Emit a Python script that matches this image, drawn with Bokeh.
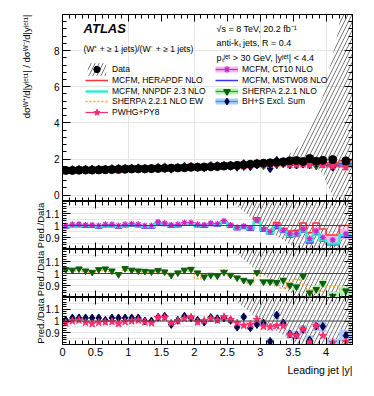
import numpy as np
from bokeh.plotting import figure
from bokeh.layouts import column, row
from bokeh.models import (Range1d, LinearAxis, FixedTicker, NumeralTickFormatter, Label,
                          Span, Legend, LegendItem, Title, Spacer)
from bokeh.embed import file_html
from bokeh.resources import INLINE

# ---------------- data ----------------
bin_lo = [0.0, 0.1, 0.2, 0.3, 0.4, 0.5, 0.6, 0.7, 0.8, 0.9, 1.0, 1.1, 1.2, 1.3, 1.4,
          1.5, 1.6, 1.7, 1.8, 1.9, 2.0, 2.1, 2.2, 2.3, 2.4, 2.5, 2.6, 2.7, 2.8, 2.9,
          3.0, 3.1, 3.2, 3.3, 3.4, 3.5, 3.6, 3.7, 3.8, 3.9, 4.0, 4.2]
bin_hi = [0.1, 0.2, 0.3, 0.4, 0.5, 0.6, 0.7, 0.8, 0.9, 1.0, 1.1, 1.2, 1.3, 1.4, 1.5,
          1.6, 1.7, 1.8, 1.9, 2.0, 2.1, 2.2, 2.3, 2.4, 2.5, 2.6, 2.7, 2.8, 2.9, 3.0,
          3.1, 3.2, 3.3, 3.4, 3.5, 3.6, 3.7, 3.8, 3.9, 4.0, 4.2, 4.4]

data_ratio = [1.37, 1.37, 1.38, 1.39, 1.39, 1.40, 1.41, 1.42, 1.43, 1.44,
              1.45, 1.46, 1.46, 1.47, 1.48, 1.49, 1.50, 1.51, 1.52, 1.54,
              1.55, 1.56, 1.58, 1.59, 1.61, 1.63, 1.65, 1.68, 1.71, 1.74,
              1.77, 1.79, 1.82, 1.85, 1.90, 1.92, 1.86, 2.03, 1.88, 1.93,
              1.97, 1.90]

# data uncertainty band (main panel)
hatch_main_x = [3.35, 3.45, 3.55, 3.65, 3.75, 3.85, 3.95, 4.05, 4.15, 4.25, 4.4]
hatch_main_lo = [1.80, 1.80, 1.80, 1.75, 1.70, 1.55, 1.20, 0.30, -0.4, -0.4, -0.4]
hatch_main_hi = [1.95, 2.30, 2.60, 3.00, 3.60, 4.50, 5.50, 7.00, 8.50, 10.5, 10.5]
# data uncertainty band (ratio panels)
hatch_ratio_x = [2.55, 3.0, 3.35, 3.6, 4.4]
hatch_ratio_lo = [1.21, 1.0, 0.88, 0.79, 0.79]
hatch_ratio_hi = [1.21, 1.21, 1.21, 1.21, 1.21]

# Pred./Data ratios
r_herapdf = [0.995, 1.005, 1.005, 1.0, 1.0, 0.995, 1.005, 1.005, 0.995, 1.005,
             1.01, 1.005, 0.995, 0.995, 1.025, 1.015, 1.0, 1.005, 1.02, 1.02,
             1.005, 1.0, 1.015, 1.01, 1.035, 1.005, 0.985, 0.995, 0.98, 1.065,
             0.98, 0.95, 1.025, 0.975, 0.955, 0.96, 1.02, 0.94, 1.02, 0.97,
             0.92, 1.0]
r_nnpdf = [0.99, 1.0, 1.0, 0.995, 0.995, 0.99, 1.0, 1.0, 0.99, 1.0,
           1.005, 1.0, 0.99, 0.99, 1.02, 1.01, 0.995, 1.0, 1.015, 1.015,
           1.0, 0.995, 1.01, 1.005, 1.028, 0.995, 0.975, 0.985, 0.97, 1.035,
           0.965, 0.935, 0.99, 0.955, 0.915, 0.925, 0.955, 0.87, 0.935, 0.88,
           0.85, 0.92]
r_mstw = [0.98, 0.99, 0.99, 0.985, 0.985, 0.98, 0.99, 0.99, 0.98, 0.99,
          0.995, 0.99, 0.98, 0.98, 1.01, 1.0, 0.985, 0.99, 1.005, 1.005,
          0.99, 0.985, 1.0, 0.995, 1.018, 0.985, 0.965, 0.975, 0.96, 1.025,
          0.955, 0.93, 0.975, 0.945, 0.905, 0.915, 0.945, 0.855, 0.925, 0.87,
          0.84, 0.905]
r_ct10 = [1.0, 1.01, 1.012, 1.005, 1.005, 1.0, 1.01, 1.01, 1.0, 1.01,
          1.015, 1.01, 1.0, 1.0, 1.03, 1.02, 1.005, 1.01, 1.025, 1.025,
          1.01, 1.005, 1.02, 1.015, 1.04, 1.005, 0.985, 0.995, 0.98, 1.045,
          0.97, 0.95, 1.0, 0.96, 0.93, 0.935, 0.97, 0.89, 0.955, 0.9,
          0.88, 0.93]
e_ct10 = [0.008, 0.008, 0.008, 0.008, 0.008, 0.008, 0.008, 0.008, 0.008, 0.008,
          0.008, 0.008, 0.008, 0.008, 0.009, 0.009, 0.009, 0.009, 0.01, 0.01,
          0.01, 0.01, 0.011, 0.011, 0.012, 0.012, 0.013, 0.013, 0.014, 0.015,
          0.018, 0.02, 0.022, 0.024, 0.026, 0.028, 0.03, 0.032, 0.034, 0.036,
          0.04, 0.045]
r_sherpa = [1.033, 1.028, 1.039, 1.022, 1.011, 1.033, 1.039, 1.022, 0.992, 1.042,
            1.028, 1.022, 1.019, 1.014, 1.025, 1.014, 0.986, 1.006, 1.028, 1.036,
            1.006, 0.972, 0.986, 0.981, 1.011, 0.986, 0.964, 0.944, 0.931, 1.008,
            0.931, 0.931, 0.925, 0.944, 0.90, 0.889, 0.978, 0.839, 0.867, 0.917,
            0.811, 0.856]
e_sherpa = [0.008, 0.008, 0.008, 0.008, 0.008, 0.008, 0.008, 0.008, 0.008, 0.01,
            0.01, 0.01, 0.01, 0.01, 0.01, 0.01, 0.01, 0.01, 0.012, 0.012,
            0.012, 0.014, 0.014, 0.014, 0.015, 0.015, 0.016, 0.016, 0.018, 0.018,
            0.02, 0.02, 0.022, 0.024, 0.026, 0.028, 0.03, 0.03, 0.032, 0.034,
            0.035, 0.035]
r_sherpa_ew = [1.02, 1.02, 1.025, 1.015, 1.005, 1.02, 1.025, 1.015, 0.995, 1.025,
               1.02, 1.015, 1.01, 1.005, 1.015, 1.005, 0.99, 1.0, 1.02, 1.02,
               0.96, 0.99, 0.985, 0.99, 1.03, 0.985, 0.965, 0.95, 0.92, 1.01,
               0.94, 0.94, 0.90, 0.88, 0.925, 0.95, 0.91, 0.865, 0.87, 0.85,
               0.89, 0.865]
r_bhs = [1.006, 1.026, 1.026, 1.026, 1.026, 1.026, 1.006, 1.026, 1.026, 1.026,
         1.026, 1.026, 1.0, 1.0, 1.032, 1.041, 0.971, 1.006, 1.041, 1.026,
         1.006, 0.991, 1.029, 1.02, 1.026, 1.006, 0.948, 1.035, 0.942, 0.971,
         0.983, 0.826, 1.049, 0.983, 0.89, 0.881, 0.928, 0.838, 0.957, 0.954,
         0.797, 0.875]
e_bhs = [0.008, 0.008, 0.008, 0.008, 0.008, 0.008, 0.008, 0.008, 0.008, 0.008,
         0.009, 0.009, 0.009, 0.009, 0.01, 0.01, 0.01, 0.01, 0.011, 0.011,
         0.012, 0.012, 0.013, 0.013, 0.014, 0.015, 0.016, 0.017, 0.018, 0.02,
         0.022, 0.025, 0.028, 0.03, 0.032, 0.035, 0.038, 0.04, 0.042, 0.045,
         0.05, 0.05]
r_pwhg = [0.983, 1.0, 1.006, 0.988, 0.977, 0.988, 0.991, 0.994, 0.977, 0.994,
          1.0, 1.006, 0.991, 0.983, 1.029, 1.029, 0.983, 1.0, 1.02, 1.032,
          0.991, 1.003, 1.02, 1.006, 1.035, 1.012, 0.983, 0.962, 0.971, 1.012,
          0.954, 0.948, 0.959, 0.957, 0.884, 0.875, 0.93, 0.82, 0.957, 0.875,
          0.817, 0.823]

# ---------------- helpers ----------------
FONT = "Liberation Sans"
lo = np.array(bin_lo)
hi = np.array(bin_hi)
xc = (lo + hi) / 2
edges = list(bin_lo) + [bin_hi[-1]]
dat = np.array(data_ratio)

XMAJ = [0, 0.5, 1, 1.5, 2, 2.5, 3, 3.5, 4]
XMIN = [round(0.1 * i, 1) for i in range(45)]
RMAJ = [0.9, 1.0, 1.1]
RMIN = [round(0.8 + 0.02 * i, 2) for i in range(21)]
MMAJ = [0, 2, 4, 6, 8]
MMIN = [round(0.4 * i, 1) for i in range(26)]

C_RED = "#ff3333"
C_CYAN = "#33eecc"
C_BLUE = "#3333ff"
C_ORANGE = "#ffa022"
C_PINK = "#ff2d6e"
C_MAG = "#cc22cc"
C_MAGBAND = "#f4b6f4"
C_GREEN = "#2f9e2f"
C_DKGREEN = "#0b5e0b"
C_GRBAND = "#b4f0b4"
C_NAVY = "#00004d"
C_LBLUE = "#4d88ff"
C_BLBAND = "#a8ccfa"
HATCH = dict(hatch_pattern="/", hatch_color="#555555", hatch_scale=8, hatch_weight=0.8,
             fill_alpha=0)

RATIO_SHIFT = 14  # ratio panels start a little to the right; their frames still line up


def base_fig(h, yr, top=0, bottom=0, left=62, width=366):
    p = figure(width=width, height=h, x_range=Range1d(0, 4.4), title=None,
               y_range=Range1d(*yr), output_backend="svg", toolbar_location=None,
               min_border_left=left, min_border_right=14, min_border_top=top,
               min_border_bottom=bottom, x_axis_location=None, y_axis_location=None,
               background_fill_color="white", border_fill_color="white")
    p.outline_line_color = "black"
    p.outline_line_width = 1
    return p


def ratio_fig(h, bottom=0):
    return base_fig(h, (0.8, 1.2), bottom=bottom, left=62 - RATIO_SHIFT,
                    width=366 - RATIO_SHIFT)


def tick_axis(p, side, positions, length):
    # axis drawing only tick marks (no labels)
    ax = LinearAxis(ticker=FixedTicker(ticks=[], minor_ticks=positions))
    ax.major_tick_in = 0
    ax.major_tick_out = 0
    ax.minor_tick_in = length
    ax.minor_tick_out = 0
    ax.major_label_standoff = 0
    ax.axis_line_color = "black"
    ax.minor_tick_line_color = "black"
    p.add_layout(ax, side)


def label_axis(p, side, ticks, minor, tin, tmin, fs):
    ax = LinearAxis(ticker=FixedTicker(ticks=ticks, minor_ticks=minor),
                    formatter=NumeralTickFormatter(format="0.[0]"))
    ax.major_tick_in = tin
    ax.major_tick_out = 0
    ax.minor_tick_in = tmin
    ax.minor_tick_out = 0
    ax.axis_line_color = "black"
    ax.major_tick_line_color = "black"
    ax.minor_tick_line_color = "black"
    ax.major_label_text_font = FONT
    ax.major_label_text_font_size = fs
    ax.major_label_text_color = "black"
    ax.major_label_standoff = 3
    p.add_layout(ax, side)
    return ax


def frame_axes(p, yt, ym, xlabels=False):
    if xlabels:
        label_axis(p, "below", XMAJ, XMIN, 7, 4, "11px")
    else:
        tick_axis(p, "below", XMIN, 4)
        tick_axis(p, "below", XMAJ, 7)
    tick_axis(p, "above", XMIN, 4)
    tick_axis(p, "above", XMAJ, 7)
    tick_axis(p, "right", ym, 4)
    tick_axis(p, "right", yt, 8)
    return label_axis(p, "left", yt, ym, 8, 4, "10px")


def ratio_axes(p, xlabels=False):
    frame_axes(p, RMAJ, RMIN, xlabels)
    p.add_layout(Title(text="Pred./Data", align="center", text_font=FONT,
                       text_font_size="9.5px", text_font_style="normal",
                       text_color="black", standoff=-6), "left")


# ---------------- main panel ----------------
pm = base_fig(201, (-0.35, 10.0), top=14, bottom=0)
frame_axes(pm, MMAJ, MMIN)
pm.add_layout(Title(text="d\u03c3\u1d42\u207a/d|y\u02b2\u1d49\u1d57\u00b9| / d\u03c3\u1d42\u207b/d|y\u02b2\u1d49\u1d57\u00b9|",
                    align="right", text_font=FONT, text_font_size="9.5px",
                    text_font_style="normal", text_color="black", standoff=37), "left")

h_main = pm.varea(x=hatch_main_x, y1=hatch_main_lo, y2=hatch_main_hi, **HATCH)

l_red = pm.step(x=edges, y=list(dat * np.array(r_herapdf)) + [dat[-1] * r_herapdf[-1]],
                mode="after", line_color=C_RED, line_width=1.5)
l_cyan = pm.step(x=edges, y=list(dat * np.array(r_nnpdf)) + [dat[-1] * r_nnpdf[-1]],
                 mode="after", line_color=C_CYAN, line_width=2.5)
l_blue = pm.step(x=edges, y=list(dat * np.array(r_mstw)) + [dat[-1] * r_mstw[-1]],
                 mode="after", line_color=C_BLUE, line_width=1.5)
l_orange = pm.step(x=edges, y=list(dat * np.array(r_sherpa_ew)) + [dat[-1] * r_sherpa_ew[-1]],
                   mode="after", line_color=C_ORANGE, line_width=1.5, line_dash="2 2")


def main_series(r, line_c, band_c, marker, mfill, msize):
    y = dat * np.array(r)
    rs = []
    if band_c is not None:
        proxy = pm.segment(x0=lo, x1=hi, y0=y, y1=y, line_color=band_c, line_width=6)
        proxy.visible = False
        rs.append(proxy)
    rs.append(pm.segment(x0=lo, x1=hi, y0=y, y1=y, line_color=line_c, line_width=1.2))
    rs.append(pm.scatter(x=xc, y=y, marker=marker, size=msize, fill_color=mfill,
                         line_color=mfill, line_width=1.2))
    return rs


ct10 = main_series(r_ct10, C_MAG, C_MAGBAND, "asterisk", C_MAG, 7)
sherpa = main_series(r_sherpa, C_GREEN, C_GRBAND, "inverted_triangle", C_DKGREEN, 7)
bhs = main_series(r_bhs, C_LBLUE, C_BLBAND, "diamond", C_NAVY, 8)
pwhg = main_series(r_pwhg, C_PINK, None, "star", C_PINK, 8)

d_sc = pm.scatter(x=xc, y=dat, marker="circle", size=8, fill_color="black", line_color="black")

leg_kw = dict(background_fill_alpha=0, border_line_alpha=0, padding=0, margin=0,
              spacing=0, glyph_width=23, glyph_height=16, label_height=9,
              label_standoff=4, label_text_font=FONT, label_text_font_size="8.5px",
              label_text_color="black")
legend_rows = [
    ("Data", [h_main, d_sc], 23, 124),
    ("MCFM, HERAPDF NLO", [l_red], 23, 113),
    ("MCFM, NNPDF 2.3 NLO", [l_cyan], 23, 102),
    ("SHERPA 2.2.1 NLO EW", [l_orange], 23, 92),
    ("PWHG+PY8", pwhg, 23, 81),
    ("MCFM, CT10 NLO", ct10, 153, 124),
    ("MCFM, MSTW08 NLO", [l_blue], 153, 113),
    ("SHERPA 2.2.1 NLO", sherpa, 153, 102),
    ("BH+S Excl. Sum", bhs, 153, 92),
]
for lab, rens, lx, ly in legend_rows:
    pm.add_layout(Legend(items=[LegendItem(label=lab, renderers=rens)],
                         location=(lx, ly), **leg_kw))

pm.add_layout(Label(x=0.319, y=9.225, text="ATLAS", text_font=FONT, text_font_size="13px",
                    text_font_style="bold italic", text_baseline="middle", text_color="black"))
pm.add_layout(Label(x=0.319, y=8.063, text="(W\u207a + \u2265 1 jets)/(W\u207b + \u2265 1 jets)",
                    text_font=FONT, text_font_size="8.5px", text_baseline="middle",
                    text_color="black"))
pm.add_layout(Label(x=2.337, y=9.17, text="\u221as = 8 TeV, 20.2 fb\u207b\u00b9",
                    text_font=FONT, text_font_size="9px", text_baseline="middle",
                    text_color="black"))
pm.add_layout(Label(x=2.337, y=8.395, text="anti-k\u209c jets, R = 0.4",
                    text_font=FONT, text_font_size="9px", text_baseline="middle",
                    text_color="black"))
pm.add_layout(Label(x=2.337, y=7.62,
                    text="p\u209c\u02b2\u1d49\u1d57 > 30 GeV, |y\u02b2\u1d49\u1d57| < 4.4",
                    text_font=FONT, text_font_size="9px", text_baseline="middle",
                    text_color="black"))

# ---------------- ratio panel 1: MCFM ----------------
p1 = ratio_fig(48)
ratio_axes(p1)
p1.varea(x=hatch_ratio_x, y1=hatch_ratio_lo, y2=hatch_ratio_hi, **HATCH)
p1.quad(left=lo, right=hi, bottom=np.array(r_ct10) - np.array(e_ct10),
        top=np.array(r_ct10) + np.array(e_ct10), fill_color=C_MAGBAND, line_alpha=0)
p1.add_layout(Span(location=1.0, dimension="width", line_color="#444444", line_width=1))
p1.step(x=edges, y=r_herapdf + [r_herapdf[-1]], mode="after", line_color=C_RED, line_width=1.5)
p1.step(x=edges, y=r_mstw + [r_mstw[-1]], mode="after", line_color=C_BLUE, line_width=1.5)
p1.step(x=edges, y=r_nnpdf + [r_nnpdf[-1]], mode="after", line_color=C_CYAN, line_width=2.5)
p1.scatter(x=xc, y=r_ct10, marker="asterisk", size=6, line_color=C_MAG, line_width=1.2)

# ---------------- ratio panel 2: SHERPA ----------------
p2 = ratio_fig(48)
ratio_axes(p2)
p2.varea(x=hatch_ratio_x, y1=hatch_ratio_lo, y2=hatch_ratio_hi, **HATCH)
p2.quad(left=lo, right=hi, bottom=np.array(r_sherpa) - np.array(e_sherpa),
        top=np.array(r_sherpa) + np.array(e_sherpa), fill_color=C_GRBAND, line_alpha=0)
p2.add_layout(Span(location=1.0, dimension="width", line_color="#444444", line_width=1))
p2.step(x=edges, y=r_sherpa_ew + [r_sherpa_ew[-1]], mode="after", line_color=C_ORANGE,
        line_width=1.5, line_dash="2 2")
p2.scatter(x=xc, y=r_sherpa, marker="inverted_triangle", size=6.5, fill_color=C_DKGREEN,
           line_color=C_DKGREEN)

# ---------------- ratio panel 3: BH+S, PWHG ----------------
p3 = ratio_fig(92, bottom=45)
ratio_axes(p3, xlabels=True)
p3.add_layout(Title(text="Leading jet |y|", align="right", text_font=FONT,
                    text_font_size="10.5px", text_font_style="normal", text_color="black",
                    standoff=6), "below")
p3.varea(x=hatch_ratio_x, y1=hatch_ratio_lo, y2=hatch_ratio_hi, **HATCH)
p3.quad(left=lo, right=hi, bottom=np.array(r_bhs) - np.array(e_bhs),
        top=np.array(r_bhs) + np.array(e_bhs), fill_color=C_BLBAND, line_alpha=0)
p3.add_layout(Span(location=1.0, dimension="width", line_color="#444444", line_width=1))
p3.scatter(x=xc, y=r_bhs, marker="diamond", size=8, fill_color=C_NAVY, line_color=C_NAVY)
p3.scatter(x=xc, y=r_pwhg, marker="star", size=8, fill_color=C_PINK, line_color=C_PINK)

layout = column(pm,
                row(Spacer(width=RATIO_SHIFT, height=48), p1, spacing=0),
                row(Spacer(width=RATIO_SHIFT, height=48), p2, spacing=0),
                row(Spacer(width=RATIO_SHIFT, height=92), p3, spacing=0),
                spacing=0)
open("out.html", "w").write(file_html(layout, INLINE))
